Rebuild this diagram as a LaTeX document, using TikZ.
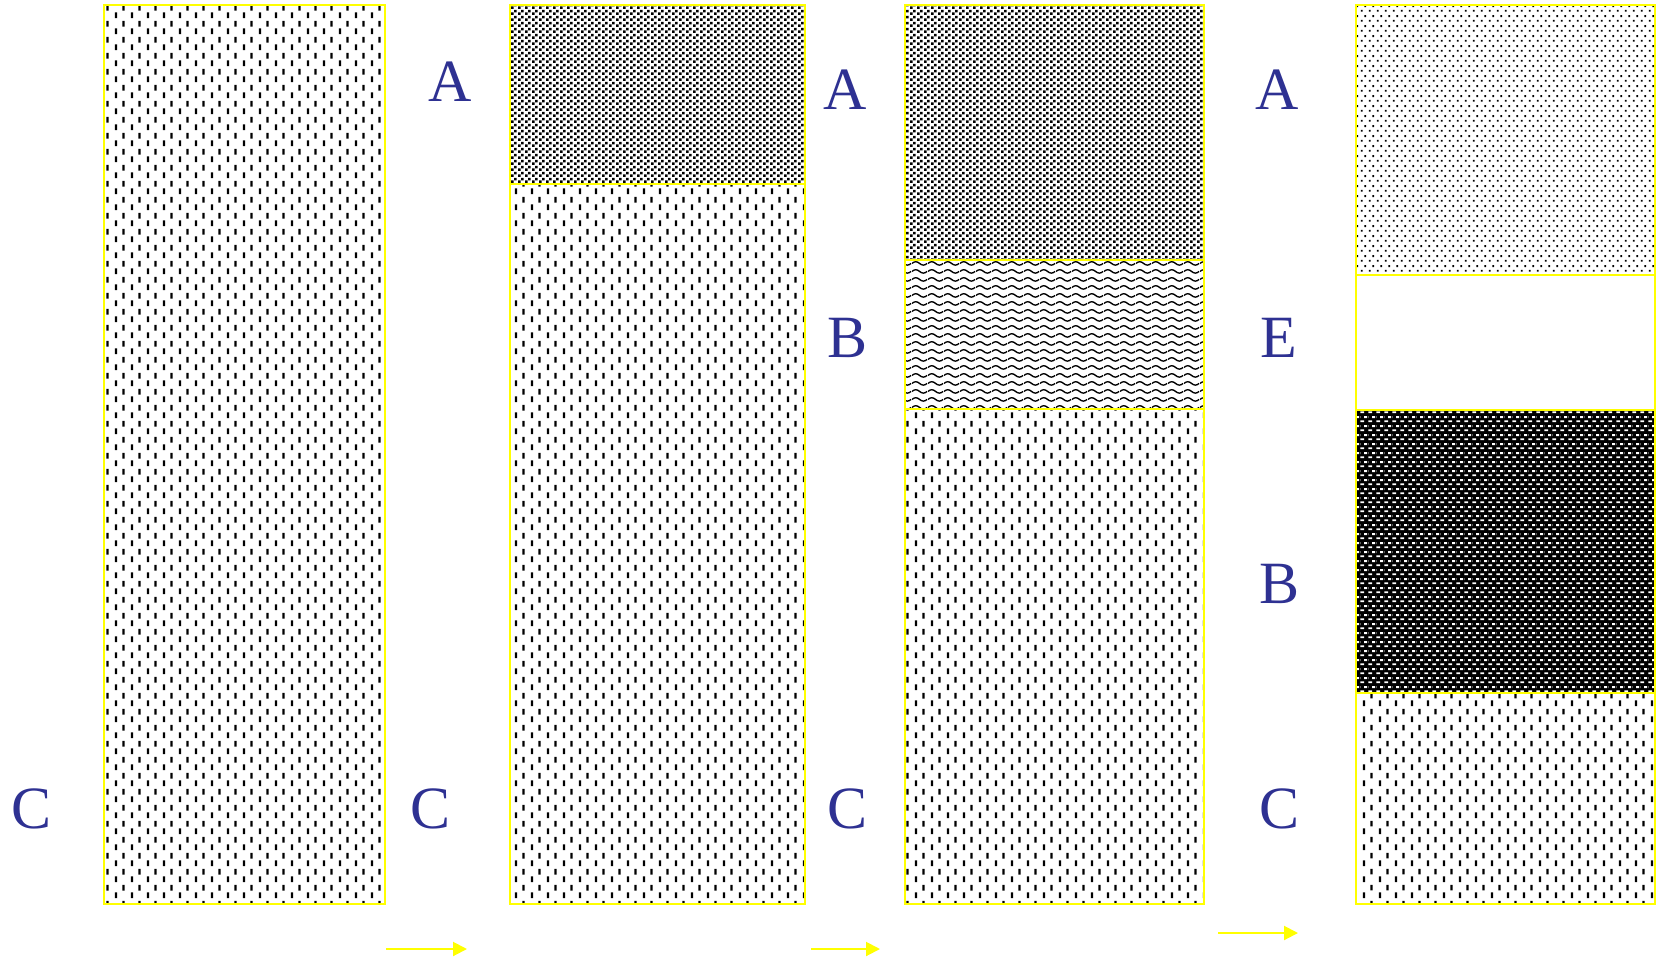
\documentclass[tikz,border=0pt]{standalone}
\usepackage{fontspec}
\setmainfont{Liberation Serif}
\usetikzlibrary{patterns.meta,arrows.meta}
\definecolor{lblue}{RGB}{46,49,146}
\definecolor{ybord}{RGB}{255,255,0}
\pgfdeclarepattern{
  name=vdash, type=uncolored,
  bottom left={\pgfpoint{0pt}{0pt}}, top right={\pgfpoint{16pt}{16pt}},
  tile size={\pgfpoint{16pt}{16pt}},
  code={
    \pgfpathrectangle{\pgfpoint{3pt}{1pt}}{\pgfpoint{2.3pt}{6pt}}
    \pgfpathrectangle{\pgfpoint{11pt}{9pt}}{\pgfpoint{2.3pt}{6pt}}
    \pgfusepath{fill}
  }
}
\pgfdeclarepattern{
  name=sqdots, type=uncolored,
  bottom left={\pgfpoint{0pt}{0pt}}, top right={\pgfpoint{7pt}{6pt}},
  tile size={\pgfpoint{7pt}{6pt}},
  code={
    \pgfpathrectangle{\pgfpoint{0pt}{0pt}}{\pgfpoint{3pt}{3pt}}
    \pgfpathrectangle{\pgfpoint{3.5pt}{3pt}}{\pgfpoint{3pt}{3pt}}
    \pgfusepath{fill}
  }
}
\pgfdeclarepattern{
  name=waves, type=uncolored,
  bottom left={\pgfpoint{0pt}{0pt}}, top right={\pgfpoint{16pt}{8pt}},
  tile size={\pgfpoint{16pt}{8pt}},
  code={
    \pgfsetlinewidth{1.5pt}
    \pgfpathmoveto{\pgfpoint{0pt}{4pt}}
    \pgfpathcurveto{\pgfpoint{2.7pt}{6.5pt}}{\pgfpoint{5.3pt}{6.5pt}}{\pgfpoint{8pt}{4pt}}
    \pgfpathcurveto{\pgfpoint{10.7pt}{1.5pt}}{\pgfpoint{13.3pt}{1.5pt}}{\pgfpoint{16pt}{4pt}}
    \pgfusepath{stroke}
  }
}
\pgfdeclarepattern{
  name=fdots, type=uncolored,
  bottom left={\pgfpoint{0pt}{0pt}}, top right={\pgfpoint{8pt}{10pt}},
  tile size={\pgfpoint{8pt}{10pt}},
  code={
    \pgfpathrectangle{\pgfpoint{1pt}{1.5pt}}{\pgfpoint{2pt}{2pt}}
    \pgfpathrectangle{\pgfpoint{5pt}{6.5pt}}{\pgfpoint{2pt}{2pt}}
    \pgfusepath{fill}
  }
}
\pgfdeclarepattern{
  name=hdash, type=uncolored,
  bottom left={\pgfpoint{0pt}{0pt}}, top right={\pgfpoint{8pt}{9pt}},
  tile size={\pgfpoint{8pt}{9pt}},
  code={
    \pgfpathrectangle{\pgfpoint{0.5pt}{1pt}}{\pgfpoint{4pt}{2pt}}
    \pgfpathrectangle{\pgfpoint{4.5pt}{5.5pt}}{\pgfpoint{3.5pt}{2pt}}
    \pgfpathrectangle{\pgfpoint{0pt}{5.5pt}}{\pgfpoint{0.5pt}{2pt}}
    \pgfusepath{fill}
  }
}
\tikzset{
  layer/.style={draw=ybord, line width=2pt},
  lbl/.style={text=lblue, font=\fontsize{60}{60}\selectfont, inner sep=0pt},
  yarrow/.style={draw=ybord, line width=2pt, -{Triangle[length=14pt,width=14pt]}}
}
\begin{document}
\begin{tikzpicture}[x=1pt,y=-1pt]
\useasboundingbox (0,0) rectangle (1656,963);
% column 1
\path[pattern=vdash] (104,5) rectangle (385,904);
\draw[layer] (104,5) rectangle (385,904);
% column 2
\path[pattern=sqdots] (510,5) rectangle (805,184);
\path[pattern=vdash] (510,184) rectangle (805,904);
\draw[layer] (510,5) rectangle (805,184);
\draw[layer] (510,184) rectangle (805,904);
% column 3
\path[pattern=sqdots] (905,5) rectangle (1204,260);
\path[pattern=waves] (905,260) rectangle (1204,409);
\path[pattern=vdash] (905,409) rectangle (1204,904);
\draw[layer] (905,5) rectangle (1204,260);
\draw[layer] (905,260) rectangle (1204,409);
\draw[layer] (905,409) rectangle (1204,904);
% column 4
\path[pattern=fdots] (1356,5) rectangle (1655,275);
\fill[black] (1356,410) rectangle (1655,693);
\path[pattern=hdash, pattern color=white] (1356,410) rectangle (1655,693);
\path[pattern=vdash] (1356,693) rectangle (1655,904);
\draw[layer] (1356,5) rectangle (1655,275);
\draw[layer] (1356,275) rectangle (1655,410);
\draw[layer] (1356,410) rectangle (1655,693);
\draw[layer] (1356,693) rectangle (1655,904);
% labels
\node[lbl] (c0) at (32,809) {C};
\node[lbl] (a1) at (450,82) {A};
\node[lbl] (c1) at (431,809) {C};
\node[lbl] (a2) at (845,90) {A};
\node[lbl] (b2) at (847,338) {B};
\node[lbl] (c2) at (847,809) {C};
\node[lbl] (a3) at (1277,90) {A};
\node[lbl] (e3) at (1279,338) {E};
\node[lbl] (b3) at (1279,584) {B};
\node[lbl] (c3) at (1279,809) {C};
% arrows
\coordinate (s1) at (386,949); \coordinate (t1) at (467,949);
\coordinate (s2) at (811,949); \coordinate (t2) at (880,949);
\coordinate (s3) at (1218,933); \coordinate (t3) at (1298,933);
\draw[yarrow] (s1) -- (t1);
\draw[yarrow] (s2) -- (t2);
\draw[yarrow] (s3) -- (t3);
\end{tikzpicture}
\end{document}
